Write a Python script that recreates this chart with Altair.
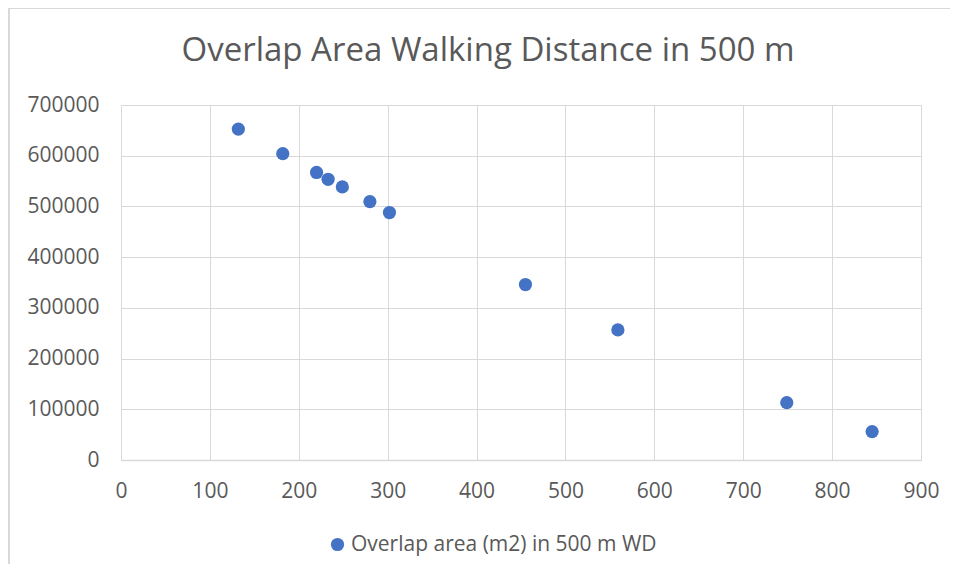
import altair as alt
import pandas as pd

# Data
walking_distance = [132, 182, 220, 233, 249, 280, 302, 455, 559, 749, 845]
overlap_area = [652500, 604000, 567000, 553500, 538500, 509500, 488000, 346000, 256500, 113000, 56000]
series_name = "Overlap area (m2) in 500 m WD"
chart_title = "Overlap Area Walking Distance in 500 m"
x_ticks = [0, 100, 200, 300, 400, 500, 600, 700, 800, 900]
y_ticks = [0, 100000, 200000, 300000, 400000, 500000, 600000, 700000]

df = pd.DataFrame({
    "distance": walking_distance,
    "area": overlap_area,
    "series": [series_name] * len(walking_distance),
})
title_df = pd.DataFrame({"t": [chart_title]})

FONT = "Open Sans"
TEXT = "#595959"
GRID = "#D9D9D9"

points = alt.Chart(df).mark_circle(size=175, opacity=1).encode(
    x=alt.X("distance:Q",
            scale=alt.Scale(domain=[0, 900], nice=False, zero=True),
            axis=alt.Axis(values=x_ticks, title=None, format="d", grid=True,
                          gridColor=GRID, domainColor=GRID, domainWidth=1.5,
                          ticks=False, labelFlush=False, labelPadding=20,
                          labelFontSize=21, labelColor=TEXT, labelFont=FONT)),
    y=alt.Y("area:Q",
            scale=alt.Scale(domain=[0, 700000], nice=False),
            axis=alt.Axis(values=y_ticks, title=None, format="d", grid=True,
                          gridColor=GRID, domain=False, ticks=False,
                          labelFlush=False, labelPadding=22, labelFontSize=21,
                          labelColor=TEXT, labelFont=FONT)),
    color=alt.Color("series:N",
                    scale=alt.Scale(range=["#4472C4"]),
                    legend=alt.Legend(title=None, orient="none",
                                      legendX=206, legendY=429,
                                      direction="horizontal",
                                      symbolType="circle", symbolSize=175,
                                      symbolStrokeWidth=0, labelOffset=3,
                                      labelLimit=600,
                                      labelFontSize=21, labelColor=TEXT,
                                      labelFont=FONT)),
)

title_text = alt.Chart(title_df).mark_text(
    font=FONT, fontSize=33, color=TEXT, align="center", baseline="alphabetic"
).encode(text="t:N", x=alt.value(367), y=alt.value(-44))

border = alt.Chart(df).mark_rule(color=GRID, strokeWidth=1.5).encode(
    x=alt.value(-112), y=alt.value(-97), y2=alt.value(480)
)
border_top = alt.Chart(df).mark_rule(color=GRID, strokeWidth=1.5).encode(
    x=alt.value(-112), x2=alt.value(850), y=alt.value(-97)
)

chart = alt.layer(border, border_top, title_text, points).properties(
    width=800,
    height=355,
    autosize=alt.AutoSizeParams(type="none"),
    padding={"left": 113, "top": 97, "right": 29, "bottom": 104},
).configure_view(stroke=None).configure(background="white")

chart.save("out.html", embed_options={"renderer": "svg", "actions": False})
